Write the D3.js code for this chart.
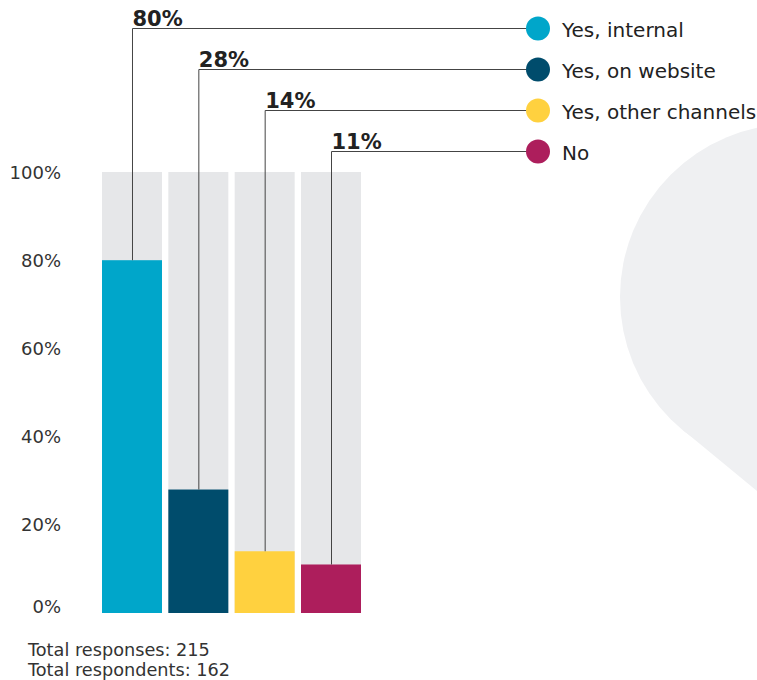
<!DOCTYPE html>
<html>
<head>
<meta charset="utf-8">
<script src="https://cdn.jsdelivr.net/npm/d3@7"></script>
<style>
  html, body { margin: 0; padding: 0; background: #fff; }
  svg { display: block; font-family: "DejaVu Sans", Verdana, sans-serif; }
</style>
</head>
<body>
<svg id="chart" width="757" height="680"></svg>
<script>
// Survey answers: share of respondents per option
const categories = ["Yes, internal", "Yes, on website", "Yes, other channels", "No"];
const values = [0.80, 0.28, 0.14, 0.11];
const colors = ["#00a6ca", "#004c6c", "#ffd13f", "#ad1e5c"];
const yTicks = [0, 0.2, 0.4, 0.6, 0.8, 1.0];
const footer = ["Total responses: 215", "Total respondents: 162"];

const svg = d3.select("#chart");

// decorative teardrop shape on the right edge
const dropC = [793, 297], dropR = 173;
const tang = [683, 430];
const tip = [900, 609];
const g0 = svg.append("g").attr("fill", "#eff0f2");
g0.append("circle").attr("cx", dropC[0]).attr("cy", dropC[1]).attr("r", dropR);
g0.append("path").attr("d", d3.line()([dropC, tang, tip, [tip[0] + 200, tip[1] - 100], [dropC[0] + 100, dropC[1]]]) + "Z");

// scales
const x = d3.scaleBand().domain(categories).range([102, 361]).paddingInner(0.0955).paddingOuter(0);
const y = d3.scaleLinear().domain([0, 1]).range([613, 172]);

// y axis labels
const axis = d3.axisLeft(y).tickValues(yTicks).tickSize(0).tickPadding(0)
  .tickFormat(d3.format(".0%"));
const ag = svg.append("g").attr("transform", "translate(61,0)").call(axis);
ag.select(".domain").remove();
ag.selectAll("text")
  .attr("font-family", "DejaVu Sans, Verdana, sans-serif")
  .attr("font-size", 18)
  .attr("fill", "#333")
  .attr("dy", d => d === 0 ? "-0.02em" : "0.34em");

// background bars (100%)
svg.append("g").selectAll("rect").data(categories).join("rect")
  .attr("x", d => x(d)).attr("width", x.bandwidth())
  .attr("y", y(1)).attr("height", y(0) - y(1))
  .attr("fill", "#e6e7e9");

// value bars
svg.append("g").selectAll("rect").data(categories).join("rect")
  .attr("x", d => x(d)).attr("width", x.bandwidth())
  .attr("y", (d, i) => y(values[i])).attr("height", (d, i) => y(0) - y(values[i]))
  .attr("fill", (d, i) => colors[i]);

// leader lines from each bar to its legend entry
const legendY = d3.scaleLinear().domain([0, 3]).range([28, 151]);
const dotX = 538, dotR = 12;
const lg = svg.append("g");
categories.forEach((c, i) => {
  const cx = x(c) + x.bandwidth() / 2 + 0.5;
  const ly = Math.round(legendY(i)) + 0.5;
  lg.append("path")
    .attr("d", `M${cx},${y(values[i])}V${ly}H${dotX}`)
    .attr("fill", "none").attr("stroke", "#444").attr("stroke-width", 1);
  lg.append("text")
    .attr("x", cx).attr("y", ly - 2.5)
    .attr("font-size", 21).attr("font-weight", "bold").attr("fill", "#222")
    .text(d3.format(".0%")(values[i]));
  lg.append("circle").attr("cx", dotX).attr("cy", ly).attr("r", dotR).attr("fill", colors[i]);
  lg.append("text")
    .attr("x", 562).attr("y", ly).attr("dy", "0.4em")
    .attr("font-size", 20).attr("fill", "#222")
    .text(c);
});

// footer notes
svg.append("g").selectAll("text").data(footer).join("text")
  .attr("x", 28).attr("y", (d, i) => 656 + i * 19.5)
  .attr("font-size", 17.7).attr("fill", "#333")
  .text(d => d);
</script>
</body>
</html>
